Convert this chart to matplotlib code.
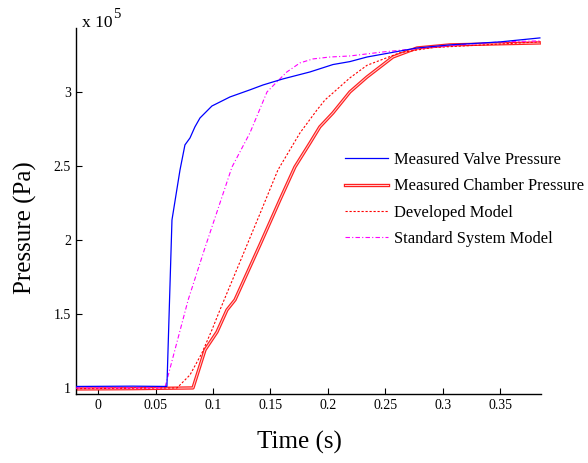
import matplotlib
matplotlib.use("Agg")
import matplotlib.pyplot as plt
import matplotlib.patheffects as pe
from matplotlib.lines import Line2D

plt.rcParams['font.family'] = ['Liberation Serif', 'DejaVu Serif']

# Pressure traces, in units of 1e5 Pa, against time in seconds
t_valve = [-0.0194, 0.0300, 0.0598, 0.0642, 0.0712, 0.0755, 0.0799, 0.0842, 0.0886,
           0.0990, 0.1147, 0.1321, 0.1435, 0.1609, 0.1844, 0.2044, 0.2192, 0.2341,
           0.2776, 0.3064, 0.3499, 0.3847]
p_valve = [1.010, 1.012, 1.010, 2.135, 2.473, 2.642, 2.689, 2.764, 2.824,
           2.905, 2.966, 3.014, 3.047, 3.088, 3.135, 3.185, 3.205, 3.236,
           3.297, 3.318, 3.338, 3.365]

t_chamber = [-0.0194, 0.0300, 0.0825, 0.0930, 0.1034, 0.1121, 0.1191, 0.1408, 0.1582,
             0.1713, 0.1844, 0.1930, 0.2044, 0.2192, 0.2341, 0.2567, 0.2776, 0.3064,
             0.3847]
p_chamber = [0.993, 0.995, 1.000, 1.257, 1.378, 1.527, 1.595, 1.966, 2.270,
             2.493, 2.655, 2.764, 2.858, 3.000, 3.101, 3.236, 3.297, 3.318,
             3.331]

t_developed = [-0.0194, 0.0400, 0.0686, 0.0799, 0.0903, 0.0990, 0.1060, 0.1234, 0.1408,
               0.1565, 0.1757, 0.1905, 0.1975, 0.2044, 0.2192, 0.2341, 0.2628, 0.2915,
               0.3847]
p_developed = [0.995, 0.998, 1.000, 1.088, 1.236, 1.392, 1.527, 1.851, 2.176,
               2.473, 2.723, 2.878, 2.946, 2.993, 3.095, 3.180, 3.265, 3.300,
               3.338]

t_standard = [-0.0194, 0.0300, 0.0580, 0.0783, 0.0929, 0.1165, 0.1321, 0.1470, 0.1556,
              0.1643, 0.1757, 0.1870, 0.2018, 0.2192, 0.2479, 0.2915, 0.3499, 0.3847]
p_standard = [1.000, 1.000, 1.000, 1.595, 1.946, 2.493, 2.723, 3.000, 3.068,
              3.135, 3.196, 3.223, 3.236, 3.243, 3.270, 3.304, 3.338, 3.345]

labels = ["Measured Valve Pressure", "Measured Chamber Pressure",
          "Developed Model", "Standard System Model"]
x_ticks = [0, 0.05, 0.1, 0.15, 0.2, 0.25, 0.3, 0.35]
x_ticklabels = ["0", "0.05", "0.1", "0.15", "0.2", "0.25", "0.3", "0.35"]
y_ticks = [1, 1.5, 2, 2.5, 3]
y_ticklabels = ["1", "1.5", "2", "2.5", "3"]

W, H = 588, 463
fig = plt.figure(figsize=(W / 100, H / 100), dpi=100)
ax = fig.add_axes([76 / W, 1 - 394 / H, (540.7 - 76) / W, (394 - 28) / H])

double_fx = [pe.Stroke(linewidth=2.4, foreground='#ff2020'), pe.Normal()]
dev_ls = (0, (2.0, 1.6))
std_ls = (0, (4.0, 2.0, 1.0, 2.0))

ax.plot(t_chamber, p_chamber, color='#ffd0d0', lw=0.7, path_effects=double_fx, zorder=2)
ax.plot(t_developed, p_developed, color='#ff0000', lw=0.8, ls=dev_ls, zorder=3)
ax.plot(t_standard, p_standard, color='#ff00ff', lw=0.8, ls=std_ls, zorder=3)
ax.plot(t_valve, p_valve, color='#0000ff', lw=0.9, zorder=4)

ax.set_xlim(-0.0194, 0.3854)
ax.set_ylim(0.959, 3.432)
ax.set_xticks(x_ticks)
ax.set_xticklabels(x_ticklabels)
ax.set_yticks(y_ticks)
ax.set_yticklabels(y_ticklabels)
ax.tick_params(direction='in', length=4, width=0.8, labelsize=10, pad=3.6)
for side in ('top', 'right'):
    ax.spines[side].set_visible(False)
for side in ('left', 'bottom'):
    ax.spines[side].set_linewidth(1.0)

# Exponent marker above the y axis
fig.text(82 / W, 1 - 27 / H, "x 10", fontsize=12.5, ha='left', va='baseline')
fig.text(113.5 / W, 1 - 18 / H, "5", fontsize=10.5, ha='left', va='baseline')

fig.text(299 / W, 1 - 442 / H, "Time (s)", fontsize=18, ha='center', va='center')
fig.text(25 / W, 1 - 227.5 / H, "Pressure (Pa)", fontsize=18, ha='center', va='center',
         rotation=90)

handles = [
    Line2D([], [], color='#0000ff', lw=0.9),
    Line2D([], [], color='#ffd0d0', lw=0.7, path_effects=double_fx),
    Line2D([], [], color='#ff0000', lw=0.8, ls=dev_ls),
    Line2D([], [], color='#ff00ff', lw=0.8, ls=std_ls),
]
ax.legend(handles, labels, loc='upper left', bbox_to_anchor=(345 / W, 1 - 152 / H),
          bbox_transform=fig.transFigure, frameon=False, fontsize=11.9,
          handlelength=2.6, handletextpad=0.36, labelspacing=0.63,
          borderpad=0, borderaxespad=0)

fig.savefig("out.png", dpi=100)
